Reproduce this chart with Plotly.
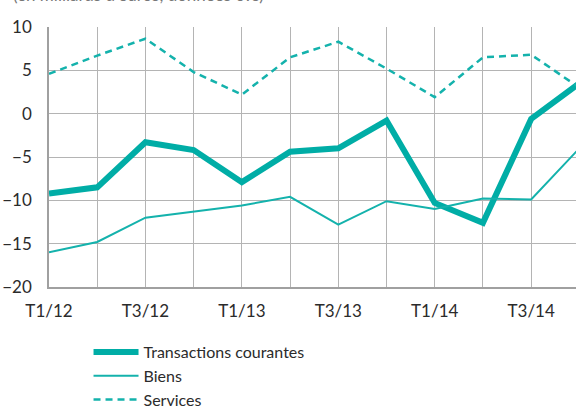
import plotly.graph_objects as go

quarters = ["T1/12", "T2/12", "T3/12", "T4/12", "T1/13", "T2/13", "T3/13", "T4/13",
            "T1/14", "T2/14", "T3/14", "T4/14"]
tick_labels = ["T1/12", "", "T3/12", "", "T1/13", "", "T3/13", "", "T1/14", "", "T3/14", ""]

transactions = [-9.2, -8.5, -3.3, -4.2, -7.9, -4.4, -4.0, -0.8, -10.3, -12.6, -0.6, 3.5]
biens = [-16.0, -14.8, -12.0, -11.3, -10.6, -9.6, -12.8, -10.1, -11.0, -9.8, -9.9, -4.0]
services = [4.6, 6.7, 8.65, 4.8, 2.2, 6.5, 8.3, 5.2, 1.9, 6.5, 6.8, 3.0]

teal = "#00ADA6"
font_family = "Lato, 'Noto Sans', sans-serif"
text_color = "#2b2b2b"
grid_color = "#b4b4b4"

fig = go.Figure()
fig.add_trace(go.Scatter(x=quarters, y=transactions, mode="lines", name="Transactions courantes",
                         line=dict(color=teal, width=6)))
fig.add_trace(go.Scatter(x=quarters, y=biens, mode="lines", name="Biens",
                         line=dict(color="#14B2AC", width=2)))
fig.add_trace(go.Scatter(x=quarters, y=services, mode="lines", name="Services",
                         line=dict(color="#14B2AC", width=2.5, dash="7px,5px")))

fig.update_layout(
    width=576, height=410,
    margin=dict(l=48.5, r=0, t=26.7, b=123, autoexpand=False),
    paper_bgcolor="white", plot_bgcolor="white",
    font=dict(family=font_family, color=text_color, size=17),
    showlegend=True,
    legend=dict(x=0.075, xanchor="left", y=-0.185, yanchor="top",
                font=dict(size=16, color=text_color), bgcolor="rgba(0,0,0,0)",
                tracegroupgap=0, itemwidth=45),
    annotations=[dict(text="(en milliards d'euros, données cvs)", x=0, xref="paper",
                      xanchor="left", xshift=-38, y=1, yref="paper", yanchor="bottom",
                      yshift=20, showarrow=False, font=dict(size=17, color="#777777"))],
)
fig.update_xaxes(
    type="category", categoryorder="array", categoryarray=quarters,
    tickvals=quarters, ticktext=tick_labels, automargin=False,
    range=[0, 10.93], showgrid=True, gridcolor=grid_color, gridwidth=1,
    showline=True, linecolor="#a0a0a0", linewidth=1.5, ticks="",
    ticklabelstandoff=8, tickfont=dict(size=17),
)
fig.update_yaxes(
    range=[-20, 10], tickvals=[-20, -15, -10, -5, 0, 5, 10], automargin=False,
    showgrid=True, gridcolor=grid_color, gridwidth=1,
    zeroline=True, zerolinecolor=grid_color, zerolinewidth=1,
    showline=True, linecolor="#a0a0a0", linewidth=1.5, ticks="",
    ticklabelstandoff=12, tickfont=dict(size=17),
)

fig.write_html("out.html", config={"displayModeBar": False},
               post_script="document.body.style.margin='0';")
